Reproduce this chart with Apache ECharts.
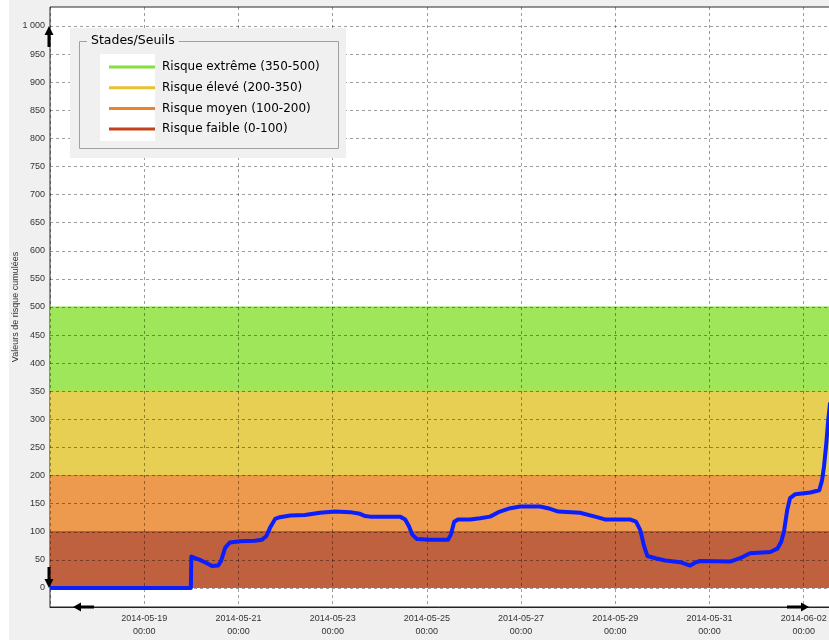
<!DOCTYPE html>
<html>
<head>
<meta charset="utf-8">
<title>Stades/Seuils</title>
<script src="https://cdn.jsdelivr.net/npm/echarts@6/dist/echarts.min.js"></script>
<style>
    html, body {margin: 0; padding: 0; background: #f0f0f0;}
    #chart {width: 829px; height: 640px;}
</style>
</head>
<body>
<div id="chart"></div>
<script>
// jours depuis le 2014-05-17 00:00
const startDate = Date.UTC(2014, 4, 17);
const dayMin = 0;
const dayMax = 16.6;

// courbe cumulée
const riskDays = [
    0, 2.99, 3.0, 3.18, 3.33, 3.44, 3.57, 3.63, 3.72, 3.82, 4.03, 4.35, 4.5, 4.59, 4.67, 4.78,
    4.88, 5.1, 5.41, 5.73, 6.05, 6.37, 6.58, 6.69, 6.79, 7.43, 7.54, 7.62, 7.69, 7.79, 8.07,
    8.45, 8.51, 8.58, 8.66, 8.92, 9.13, 9.34, 9.55, 9.77, 9.98, 10.4, 10.57, 10.79, 11.25,
    11.57, 11.78, 12.31, 12.44, 12.53, 12.61, 12.68, 12.85, 13.06, 13.38, 13.59, 13.69, 13.8,
    14.44, 14.65, 14.86, 15.29, 15.44, 15.52, 15.58, 15.65, 15.71, 15.82, 16.14, 16.33, 16.39,
    16.43, 16.48, 16.52, 16.56
];
const riskValues = [
    0, 0, 56, 50, 44, 39, 40, 48, 72, 81, 83, 84, 86, 92, 107, 123,
    126, 129, 130, 134, 136, 135, 132, 128, 127, 127, 122, 110, 95, 87, 86,
    86, 95, 118, 122, 122, 124, 127, 136, 142, 145, 145, 142, 136, 134,
    127, 122, 122, 118, 103, 75, 57, 53, 49, 46, 40, 45, 48,
    47, 53, 62, 64, 70, 82, 100, 139, 160, 167, 170, 174, 192,
    216, 258, 299, 330
];

// seuils
const bandNames = ['Risque extrême (350-500)', 'Risque élevé (200-350)', 'Risque moyen (100-200)', 'Risque faible (0-100)'];
const bandTops = [500, 350, 200, 100];
const bandLineColors = ['#84e03c', '#e6c232', '#f08226', '#c2421c'];
const bandFillColors = ['#a0e65a', '#e7cf53', '#ee9a4e', '#bf613e'];

const yTicks = {min: 0, max: 1000, step: 50};

function pad(n) {
    return n < 10 ? '0' + n : '' + n;
}
function dayLabel(v) {
    const d = new Date(startDate + v * 86400000);
    return d.getUTCFullYear() + '-' + pad(d.getUTCMonth() + 1) + '-' + pad(d.getUTCDate()) +
        '\n' + pad(d.getUTCHours()) + ':' + pad(d.getUTCMinutes());
}

const fontUi = '"DejaVu Sans", sans-serif';
const fontAxis = '"Liberation Sans", Arial, sans-serif';

const bandSeries = bandNames.map((name, i) => ({
    name: name,
    type: 'line',
    xAxisIndex: 1,
    yAxisIndex: 1,
    data: [[dayMin, bandTops[i]], [dayMax, bandTops[i]]],
    symbol: 'none',
    color: bandLineColors[i],
    lineStyle: {width: 1, color: bandLineColors[i]},
    areaStyle: {color: bandFillColors[i], opacity: 1},
    silent: true,
    z: 2 + i * 0.01
}));

const riskSeries = {
    name: 'cumul',
    type: 'line',
    xAxisIndex: 1,
    yAxisIndex: 1,
    data: riskDays.map((d, i) => [d, riskValues[i]]),
    symbol: 'none',
    clip: false,
    lineStyle: {width: 4, color: '#0a1eff', join: 'round'},
    z: 10
};

function arrow(points) {
    return {type: 'polygon', shape: {points: points}, style: {fill: '#000'}, z: 100, silent: true};
}

const chart = echarts.init(document.getElementById('chart'));
chart.setOption({
    backgroundColor: '#f0f0f0',
    animation: false,
    grid: [
        // cadre
        {left: 50, right: -3, top: 7, bottom: 33, show: true, backgroundColor: '#ffffff',
            borderColor: '#2a2a2a', borderWidth: 1, z: 0, outerBoundsMode: 'none', containLabel: false},
        // zone des valeurs
        {left: 50, right: -3, top: 26, bottom: 52, outerBoundsMode: 'none', containLabel: false}
    ],
    xAxis: [
        {
            gridIndex: 0, type: 'value', min: dayMin, max: dayMax, interval: 2, z: 5,
            axisLine: {lineStyle: {color: '#222', width: 1}},
            axisTick: {show: false},
            axisLabel: {
                formatter: dayLabel, showMinLabel: false, showMaxLabel: false,
                fontFamily: fontAxis, fontSize: 9, color: '#333', lineHeight: 13, margin: 5
            },
            splitLine: {show: true, lineStyle: {type: [3, 3], color: 'rgba(0,0,0,0.38)'}}
        },
        {
            gridIndex: 1, type: 'value', min: dayMin, max: dayMax, interval: 2, show: false,
            splitLine: {show: false}
        }
    ],
    yAxis: [
        {gridIndex: 0, type: 'value', min: 0, max: 1, show: false, splitLine: {show: false}},
        {
            gridIndex: 1, type: 'value', min: yTicks.min, max: yTicks.max, interval: yTicks.step, z: 5,
            name: 'Valeurs de risque cumulées', nameLocation: 'middle', nameGap: 30,
            nameMoveOverlap: false,
            nameTextStyle: {fontFamily: fontAxis, fontSize: 9, color: '#333'},
            axisLine: {show: false},
            axisTick: {show: false},
            axisLabel: {
                fontFamily: fontAxis, fontSize: 9, color: '#333', margin: 5,
                formatter: v => v >= 1000 ? '1 000' : '' + v
            },
            splitLine: {show: true, lineStyle: {type: [3, 3], color: 'rgba(0,0,0,0.38)'}}
        }
    ],
    legend: {
        orient: 'vertical',
        left: 104,
        top: 55,
        icon: 'rect',
        itemWidth: 46,
        itemHeight: 3,
        itemGap: 6.7,
        selectedMode: false,
        data: bandNames,
        textStyle: {fontFamily: fontUi, fontSize: 12, color: '#000', padding: [0, 0, 0, 2], lineHeight: 14},
        z: 60
    },
    graphic: [
        {type: 'rect', shape: {x: 0, y: 0, width: 9, height: 640}, style: {fill: '#fff'}, z: -1, silent: true},
        // boîte de légende
        {type: 'rect', shape: {x: 70, y: 28, width: 276, height: 130}, style: {fill: '#f0f0f0'}, z: 50, silent: true},
        {type: 'rect', shape: {x: 79.5, y: 41.5, width: 259, height: 107},
            style: {fill: 'none', stroke: '#a0a0a0', lineWidth: 1}, z: 51, silent: true},
        {type: 'rect', shape: {x: 100, y: 54, width: 55, height: 87}, style: {fill: '#fff'}, z: 51, silent: true},
        {type: 'text', x: 87, y: 34, z: 52, silent: true,
            style: {text: ' Stades/Seuils ', fill: '#000', font: '12.5px ' + fontUi, backgroundColor: '#f0f0f0'}},
        // flèches de défilement
        arrow([[49, 26], [44.5, 35], [47.5, 35], [47.5, 47], [50.5, 47], [50.5, 35], [53.5, 35]]),
        arrow([[49, 588], [44.5, 579], [47.5, 579], [47.5, 567], [50.5, 567], [50.5, 579], [53.5, 579]]),
        arrow([[73, 607], [81, 602.5], [81, 605.5], [94, 605.5], [94, 608.5], [81, 608.5], [81, 611.5]]),
        arrow([[809, 607], [801, 602.5], [801, 605.5], [787, 605.5], [787, 608.5], [801, 608.5], [801, 611.5]])
    ],
    series: bandSeries.concat([riskSeries])
});
</script>
</body>
</html>
